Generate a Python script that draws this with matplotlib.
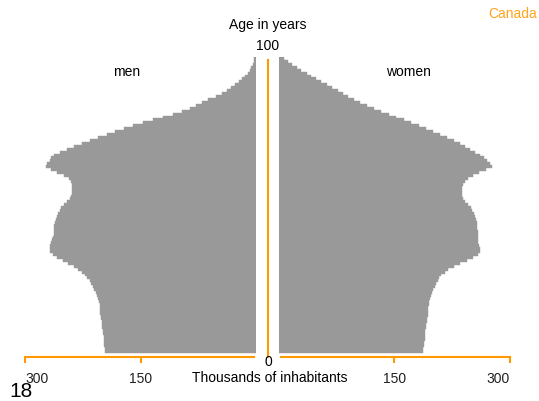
import numpy as np
import matplotlib.pyplot as plt
from matplotlib.lines import Line2D

plt.rcParams.update({
    "font.family": ["Liberation Sans", "DejaVu Sans"],
    "font.size": 10,
})

# ==========================================================
# Data (thousands of inhabitants by single year of age)
# ==========================================================
ages = list(range(0, 101))

men = [196, 196, 197, 197, 198, 198, 199, 199, 200, 200,
       200, 201, 201, 202, 202, 203, 203, 204, 205, 206,
       208, 210, 212, 214, 216, 219, 222, 226, 231, 237,
       244, 251, 258, 264, 268, 268, 267, 266, 265, 264,
       263, 263, 262, 262, 261, 260, 259, 257, 255, 253,
       250, 246, 242, 240, 239, 239, 239, 239, 240, 243,
       250, 258, 266, 273, 271, 268, 266, 262, 255, 246,
       236, 226, 216, 205, 194, 183, 172, 160, 147, 134,
       121, 108, 96, 86, 78, 70, 62, 52, 44, 38,
       32, 27, 22, 18, 14, 11, 8, 6, 4, 3, 2]

women = [187, 187, 188, 188, 189, 189, 190, 190, 191, 191,
         192, 192, 193, 193, 194, 194, 195, 195, 196, 197,
         199, 200, 202, 204, 206, 208, 211, 215, 220, 227,
         235, 244, 252, 258, 261, 261, 260, 259, 259, 258,
         258, 258, 257, 257, 257, 256, 255, 253, 251, 249,
         246, 242, 239, 238, 238, 238, 238, 239, 241, 245,
         252, 260, 269, 277, 274, 270, 266, 261, 255, 248,
         242, 235, 227, 218, 209, 200, 191, 182, 172, 162,
         152, 143, 133, 123, 114, 105, 98, 90, 83, 76,
         69, 62, 55, 48, 42, 36, 29, 23, 17, 12, 6]

xticks = [0, 150, 300]
xticklabels = ["", "150", "300"]

ORANGE = "#FF9900"
GREY = "#999999"

# ==========================================================
# Plot
# ==========================================================
fig = plt.figure(figsize=(5.39, 4.02), dpi=100)

bottom, height = 0.1095, 0.7463
axL = fig.add_axes([0.0464, bottom, 0.4286, height])
axR = fig.add_axes([0.5176, bottom, 0.4286, height])

axL.barh(ages, men, height=1.0, color=GREY, edgecolor=GREY, linewidth=0.3)
axR.barh(ages, women, height=1.0, color=GREY, edgecolor=GREY, linewidth=0.3)

axL.set_xlim(300, 0)
axR.set_xlim(0, 300)

for ax in (axL, axR):
    ax.set_ylim(-2.0, 100.5)
    ax.set_facecolor("none")
    for side in ("top", "left", "right"):
        ax.spines[side].set_visible(False)
    ax.spines["bottom"].set_color(ORANGE)
    ax.spines["bottom"].set_linewidth(1.5)
    ax.spines["bottom"].set_bounds(3, 300)
    ax.set_yticks([])
    ax.set_xticks(xticks)
    ax.set_xticklabels(xticklabels)
    ax.tick_params(axis="x", direction="out", length=4, width=1.5,
                   color=ORANGE, labelcolor="#222222", labelsize=10, pad=6)
    ax.xaxis.get_major_ticks()[0].tick1line.set_visible(False)

axL.get_xticklabels()[2].set_ha("left")
axR.get_xticklabels()[2].set_ha("right")

# centre age axis
fig.add_artist(Line2D([0.4972, 0.4972], [0.1095, 0.848],
                      color=ORANGE, linewidth=1.5))

# ==========================================================
# Labels
# ==========================================================
fig.text(0.4972, 1 - 25 / 402, "Age in years", ha="center", va="center")
fig.text(0.4972, 1 - 46 / 402, "100", ha="center", va="center")
fig.text(0.4972, 1 - 362 / 402, "0", ha="center", va="center")
fig.text(0.5, 1 - 378 / 402, "Thousands of inhabitants", ha="center", va="center")
fig.text(127 / 539, 1 - 72 / 402, "men", ha="center", va="center")
fig.text(408 / 539, 1 - 72 / 402, "women", ha="center", va="center")
fig.text(537 / 539, 1 - 14 / 402, "Canada", ha="right", va="center", color="#FFA31A")
fig.text(9 / 539, 1 - 392 / 402, "18", ha="left", va="center", fontsize=15)

plt.savefig("out.png", dpi=100)
